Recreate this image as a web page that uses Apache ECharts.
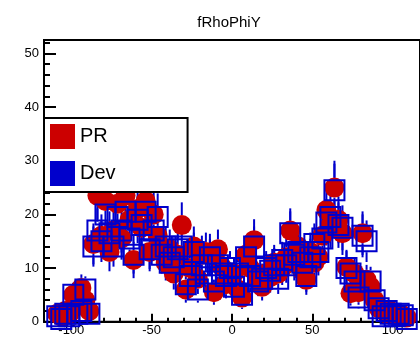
<!DOCTYPE html>
<html><head><meta charset="utf-8">
<script src="https://cdn.jsdelivr.net/npm/echarts@6/dist/echarts.min.js"></script>
<style>html,body{margin:0;padding:0;background:#fff;}#c{width:420px;height:337px;}</style>
</head><body><div id="c"></div>
<script>
const titleText = 'fRhoPhiY';
const seriesNames = ['PR', 'Dev'];
const binCenters = [-108.75,-106.25,-103.75,-101.25,-98.75,-96.25,-93.75,-91.25,-88.75,-86.25,-83.75,-81.25,-78.75,-76.25,-73.75,-71.25,-68.75,-66.25,-63.75,-61.25,-58.75,-56.25,-53.75,-51.25,-48.75,-46.25,-43.75,-41.25,-38.75,-36.25,-33.75,-31.25,-28.75,-26.25,-23.75,-21.25,-18.75,-16.25,-13.75,-11.25,-8.75,-6.25,-3.75,-1.25,1.25,3.75,6.25,8.75,11.25,13.75,16.25,18.75,21.25,23.75,26.25,28.75,31.25,33.75,36.25,38.75,41.25,43.75,46.25,48.75,51.25,53.75,56.25,58.75,61.25,63.75,66.25,68.75,71.25,73.75,76.25,78.75,81.25,83.75,86.25,88.75,91.25,93.75,96.25,98.75,101.25,103.75,106.25,108.75];
const prValues = [1.5,1,2,1.5,5,3.5,6.3,4,2,14.5,23.5,16,22.5,13,17,22,15.5,23.5,19,11.5,21,17.5,22.5,13,20,16,13,11,13.5,9,12.5,18,6,10,14,8,12.5,13,12.8,5.5,13.5,10.2,7,8,9,6,4.5,12.5,10,15.2,8,6.5,9,8.3,11,9,10,12,17,11,14,9.5,7.8,13,11,12.1,16,20.8,18,25,19,16.5,10.2,5.3,9,5.5,16.5,7.8,6.5,4,2.5,2.2,1.5,2,1.5,1,1.2,0.8];
const devValues = [1,0.5,1.5,1,5,1.5,2,6,1.5,14,17,15,20,16.5,14,19.5,17,20.5,15.5,12.5,19,18,20.5,13.5,17,19.5,12.5,14,11,12,13.5,14,7,8.5,13,6,10.5,9,12,7.5,10.5,9,8.5,10,6.5,9,5,12,8.5,14,7.5,8,10,9.5,10.5,8,11.5,10.5,16.5,12.5,13,11,8.5,12,14.5,13,15.5,18.5,19.5,24.5,18,17.5,10,9,7.5,4.5,16,15,7.5,4,2.5,1,2,1.5,1,1.5,1.2,0.5];

const FONT = '"Liberation Sans", Arial, Helvetica, sans-serif';
const RED = '#cc0000', BLUE = '#0000cc';
const X_MIN = -117, X_MAX = 117, Y_MIN = 0, Y_MAX = 52.5;

function withErr(vals) { return binCenters.map((x, i) => [x, vals[i], Math.sqrt(vals[i])]); }
function points(vals) { return binCenters.map((x, i) => [x, vals[i]]); }
function errRender(gap) {
  return function (params, api) {
    const x = api.value(0), y = api.value(1), e = api.value(2);
    const c = api.coord([x, y]);
    const top = api.coord([x, y + e]);
    const bot = api.coord([x, y - e]);
    const style = { stroke: BLUE, lineWidth: 2 };
    const children = [];
    if (c[1] - gap > top[1]) children.push({ type: 'line', shape: { x1: c[0], y1: top[1], x2: c[0], y2: c[1] - gap }, style });
    if (bot[1] > c[1] + gap) children.push({ type: 'line', shape: { x1: c[0], y1: c[1] + gap, x2: c[0], y2: bot[1] }, style });
    return { type: 'group', children };
  };
}

const chart = echarts.init(document.getElementById('c'), null, { renderer: 'canvas' });
const axisLine = { show: true, onZero: false, lineStyle: { color: '#000', width: 2 } };
chart.setOption({
  animation: false,
  backgroundColor: '#fff',
  title: {
    text: titleText, left: 224, top: 10, textAlign: 'center',
    textStyle: { fontSize: 15, fontWeight: 'normal', fontFamily: FONT, color: '#000' }
  },
  legend: {
    left: 44, top: 118, orient: 'vertical',
    padding: [6, 72, 6, 6], itemGap: 12, itemWidth: 25, itemHeight: 25,
    backgroundColor: '#fff', borderColor: '#000', borderWidth: 2, borderRadius: 0,
    textStyle: { fontSize: 20, fontFamily: FONT, color: '#000' },
    selectedMode: false,
    data: [
      { name: seriesNames[0], icon: 'rect', itemStyle: { color: RED, borderWidth: 0 } },
      { name: seriesNames[1], icon: 'rect', itemStyle: { color: BLUE, borderWidth: 0 } }
    ]
  },
  grid: { left: 44, right: -2, top: 40, bottom: 15.3, show: true, borderColor: '#000', borderWidth: 2, backgroundColor: 'transparent' },
  xAxis: [
    {
      type: 'value', min: X_MIN, max: X_MAX, splitNumber: 5, position: 'bottom',
      axisLine: axisLine,
      axisTick: { show: true, inside: true, length: 8, lineStyle: { color: '#000', width: 2 } },
      axisLabel: { show: true, margin: 2, fontSize: 13, fontFamily: FONT, color: '#000', showMinLabel: false, showMaxLabel: false },
      splitLine: { show: false }
    },
    {
      type: 'value', min: X_MIN, max: X_MAX, splitNumber: 23, position: 'bottom',
      axisLine: { show: false, onZero: false },
      axisTick: { show: true, inside: true, length: 4, lineStyle: { color: '#000', width: 2 } },
      axisLabel: { show: false },
      splitLine: { show: false }
    }
  ],
  yAxis: [
    {
      type: 'value', min: Y_MIN, max: Y_MAX, interval: 10, position: 'left',
      axisLine: axisLine,
      axisTick: { show: true, inside: true, length: 12, lineStyle: { color: '#000', width: 2 } },
      axisLabel: { show: true, margin: 5, fontSize: 13, fontFamily: FONT, color: '#000', showMaxLabel: false },
      splitLine: { show: false }
    },
    {
      type: 'value', min: Y_MIN, max: Y_MAX, interval: 2, position: 'left',
      axisLine: { show: false, onZero: false },
      axisTick: { show: true, inside: true, length: 6, lineStyle: { color: '#000', width: 2 } },
      axisLabel: { show: false },
      splitLine: { show: false }
    }
  ],
  series: [
    {
      type: 'custom', name: 'PR_err', xAxisIndex: 0, yAxisIndex: 0, clip: false,
      renderItem: errRender(10), data: withErr(prValues), encode: { x: 0, y: 1 }, silent: true
    },
    {
      type: 'scatter', name: seriesNames[0], xAxisIndex: 0, yAxisIndex: 0, clip: false,
      symbol: 'circle', symbolSize: 20, data: points(prValues),
      itemStyle: { color: RED, opacity: 1 }, silent: true
    },
    {
      type: 'custom', name: 'Dev_err', xAxisIndex: 0, yAxisIndex: 0, clip: false,
      renderItem: errRender(11), data: withErr(devValues), encode: { x: 0, y: 1 }, silent: true
    },
    {
      type: 'scatter', name: seriesNames[1], xAxisIndex: 0, yAxisIndex: 0, clip: false,
      symbol: 'rect', symbolSize: 20, data: points(devValues),
      itemStyle: { color: 'rgba(0,0,0,0)', borderColor: BLUE, borderWidth: 2, opacity: 1 }, silent: true
    }
  ]
});
</script>
</body></html>
